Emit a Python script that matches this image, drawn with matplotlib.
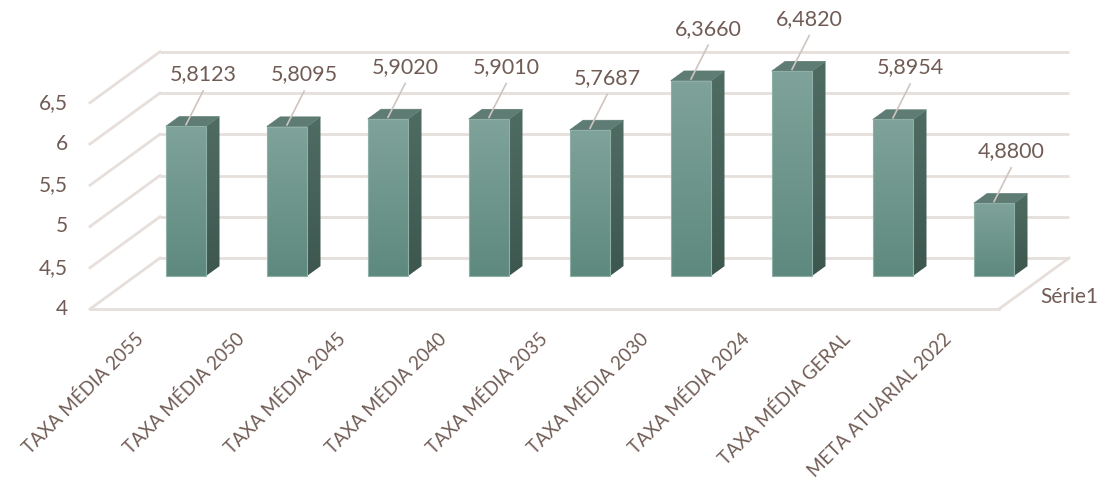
import matplotlib
matplotlib.use("Agg")
import matplotlib.pyplot as plt
import numpy as np
from matplotlib.patches import Polygon
from matplotlib.colors import LinearSegmentedColormap

categories = ["TAXA MÉDIA 2055", "TAXA MÉDIA 2050", "TAXA MÉDIA 2045", "TAXA MÉDIA 2040",
              "TAXA MÉDIA 2035", "TAXA MÉDIA 2030", "TAXA MÉDIA 2024", "TAXA MÉDIA GERAL",
              "META ATUARIAL 2022"]
values = [5.8123, 5.8095, 5.9020, 5.9010, 5.7687, 6.3660, 6.4820, 5.8954, 4.8800]
value_labels = ["5,8123", "5,8095", "5,9020", "5,9010", "5,7687", "6,3660", "6,4820", "5,8954", "4,8800"]
yticks = [4, 4.5, 5, 5.5, 6, 6.5]
ytick_labels = ["4", "4,5", "5", "5,5", "6", "6,5"]
series_name = "Série1"

plt.rcParams['font.family'] = ['Lato', 'DejaVu Sans']
TXT = '#705C55'
GRID = '#E6DFDB'

fig = plt.figure(figsize=(11.03, 4.96), dpi=100)
ax = fig.add_axes([0, 0, 1, 1])
PX_X = 101.0
PX_Y = 82.5
x0px, y0px = 90.0, 309.0
ax.set_xlim(-x0px / PX_X, (1103 - x0px) / PX_X)
ax.set_ylim(4 - (496 - y0px) / PX_Y, 4 + y0px / PX_Y)
ax.axis('off')

n = len(categories)
DX = 70 / PX_X   # full depth offset in x (category units)
DY = 51 / PX_Y   # full depth offset in y (value units)
ymin = yticks[0]

# back wall gridlines + left wall lines + tick labels
for v, lab in zip(yticks, ytick_labels):
    ax.plot([DX, n + DX], [v + DY, v + DY], color=GRID, lw=2.0, zorder=1, solid_capstyle='butt')
    ax.plot([0, DX], [v, v + DY], color=GRID, lw=2.0, zorder=1)
    ax.text(-0.22, v, lab, ha='right', va='center', fontsize=15, color=TXT)
# floor edges
ax.plot([0, n], [ymin, ymin], color=GRID, lw=2.0, zorder=1)
ax.plot([n, n + DX], [ymin, ymin + DY], color=GRID, lw=2.0, zorder=1)

# bars
F0 = 0.65
BD = 0.19
W = 0.40
ox, oy = F0 * DX, F0 * DY
bdx, bdy = BD * DX, BD * DY
grad = np.linspace(0, 1, 256).reshape(-1, 1)
cmap_front = LinearSegmentedColormap.from_list('f', ['#5E897E', '#7FA39A'])
cmap_side = LinearSegmentedColormap.from_list('s', ['#3D574F', '#4F6C63'])

for i, v in enumerate(values):
    xc = i + 0.5 + ox
    xl, xr = xc - W / 2, xc + W / 2
    yb, yt = ymin + oy, v + oy
    rects = ax.bar([xc], [v - ymin], bottom=[yb], width=W, color='none',
                   edgecolor='#8FB0A7', lw=0.8, zorder=3)
    rect = rects[0]
    im = ax.imshow(grad, extent=[xl, xr, yb, yt], origin='lower', cmap=cmap_front,
                   aspect='auto', zorder=2.5)
    im.set_clip_path(rect)
    side = Polygon([(xr, yb), (xr + bdx, yb + bdy), (xr + bdx, yt + bdy), (xr, yt)],
                   closed=True, facecolor='none', edgecolor='none', zorder=2.5)
    ax.add_patch(side)
    im2 = ax.imshow(grad, extent=[xr, xr + bdx, yb, yt + bdy], origin='lower', cmap=cmap_side,
                    aspect='auto', zorder=2.5)
    im2.set_clip_path(side)
    top = Polygon([(xl, yt), (xl + bdx, yt + bdy), (xr + bdx, yt + bdy), (xr, yt)],
                  closed=True, facecolor='#5E7C73', edgecolor='#5E7C73', lw=0.5, zorder=2.6)
    ax.add_patch(top)
    # data label with leader line
    lx = xc + 0.17
    ly = yt + 0.63
    ax.plot([lx, xc], [ly - 0.2, yt + 0.02], color='#CFC5C0', lw=1.2, zorder=4)
    ax.text(lx, ly, value_labels[i], ha='center', va='center', fontsize=15.5, color=TXT, zorder=5)
    # category label
    ax.text(i + 0.5, ymin - 0.33, categories[i], rotation=45, rotation_mode='anchor',
            ha='right', va='center', fontsize=13.5, color=TXT)

ax.text(n + 0.41, ymin + 0.145, series_name, ha='left', va='center', fontsize=15, color=TXT)

fig.savefig('out.png', dpi=100)
